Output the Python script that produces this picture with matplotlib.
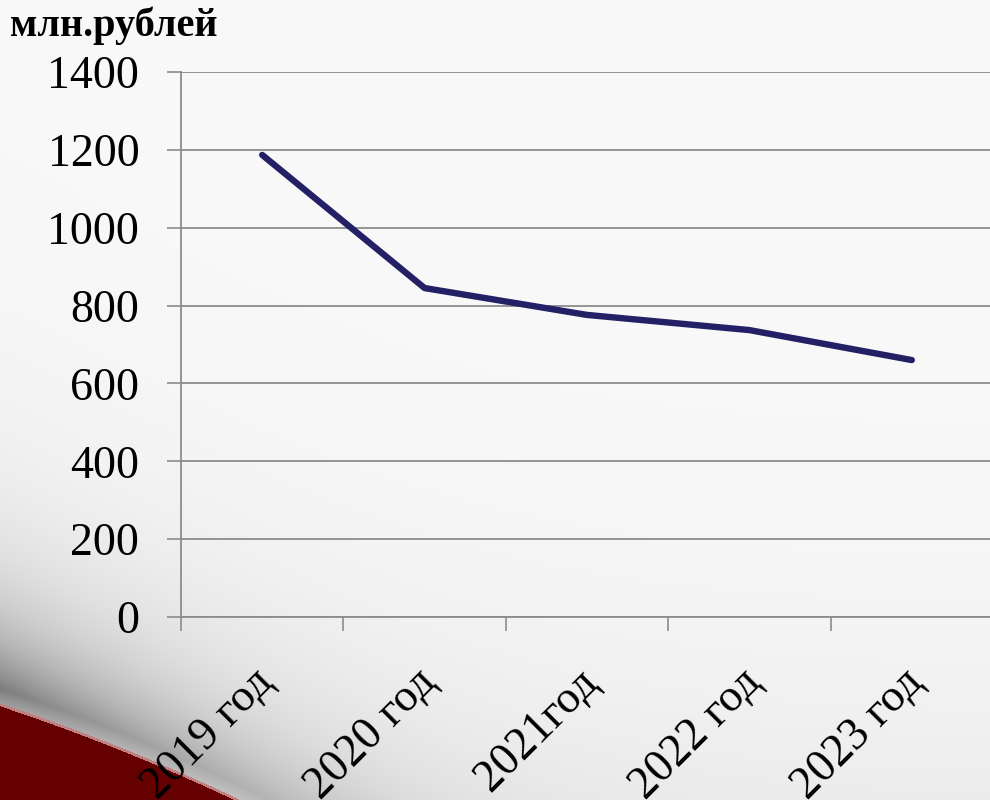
import numpy as np
import matplotlib
matplotlib.use("Agg")
import matplotlib.pyplot as plt
import matplotlib.transforms as mtransforms

# data
years = ["2019 год", "2020 год", "2021год", "2022 год", "2023 год"]
values = [1187, 845, 776, 737, 660]
yticks = [0, 200, 400, 600, 800, 1000, 1200, 1400]

plt.rcParams['font.family'] = ['Liberation Serif', 'DejaVu Serif']

W, H = 990, 800
fig = plt.figure(figsize=(W / 100, H / 100), dpi=100)
fig.patch.set_facecolor("#f9f9f9")

# background: light panel with grey shadow and dark red swoosh at bottom left
bg = fig.add_axes([0, 0, 1, 1], zorder=-10)
bg.set_axis_off()
xx, yy = np.meshgrid(np.arange(W), np.arange(H))
curve = 703 + 0.33 * xx + 0.0003 * xx ** 2
base = np.array([0xf9, 0xf9, 0xf9]) / 255.0
img = np.ones((H, W, 3)) * base
d = curve - yy
dpos = np.clip(d - 15, 0, None)
dark = 0.38 * np.exp(-dpos / 65.0) * np.exp(-xx / 320.0)
dark += 0.10 * np.exp(-np.clip(d, 0, None) / 170.0) * np.exp(-xx / 650.0)
dark *= np.where(d < 15, 0.7 + 0.3 * np.clip(d, 0, 15) / 15, 1.0)
dark += 0.05 * (yy / H) ** 4
img = img * (1 - dark[..., None])
red = np.array([0x64, 0x00, 0x00]) / 255.0
below = d < 0
img[below] = red
edge = (d < 0) & (d > -3)
img[edge] = np.array([0xc0, 0x80, 0x80]) / 255.0
bg.imshow(img, extent=[0, W, H, 0], aspect="auto", interpolation="bilinear")
bg.set_xlim(0, W)
bg.set_ylim(H, 0)

ax = fig.add_axes([181 / W, 1 - 617 / H, (993 - 181) / W, (617 - 72) / H])
ax.patch.set_alpha(0)
x = np.arange(len(years))
ax.plot(x, values, color="#232066", linewidth=4.6, solid_capstyle="round",
        solid_joinstyle="round", zorder=3)

ax.set_ylim(0, 1400)
ax.set_yticks(yticks)
ax.set_xlim(-0.5, len(years) - 0.5)
ax.set_xticks(np.arange(len(years) + 1) - 0.5)
ax.set_xticklabels([])
ax.set_xticks(x, minor=True)
ax.set_xticklabels(years, minor=True, rotation=45, ha="right", va="center",
                   rotation_mode="anchor", fontsize=33)
ax.tick_params(axis="x", which="minor", length=0, pad=42)
ax.tick_params(axis="x", which="major", length=10, width=1.2, color="#8c8c8c")
ax.tick_params(axis="y", length=10, width=1.2, color="#8c8c8c", labelsize=33, pad=20)
offset = mtransforms.ScaledTranslation(5 / 100, 0, fig.dpi_scale_trans)
for lab in ax.get_xticklabels(minor=True):
    lab.set_transform(lab.get_transform() + offset)
ax.grid(axis="y", color="#8c8c8c", linewidth=1.3)
for s in ["top", "right"]:
    ax.spines[s].set_visible(False)
for s in ["left", "bottom"]:
    ax.spines[s].set_color("#8c8c8c")
    ax.spines[s].set_linewidth(1.3)

fig.text(10 / W, 1 - 36 / H, "млн.рублей", fontsize=29, fontweight="bold",
         va="baseline", ha="left")

fig.savefig("out.png", dpi=100, facecolor=fig.get_facecolor())
